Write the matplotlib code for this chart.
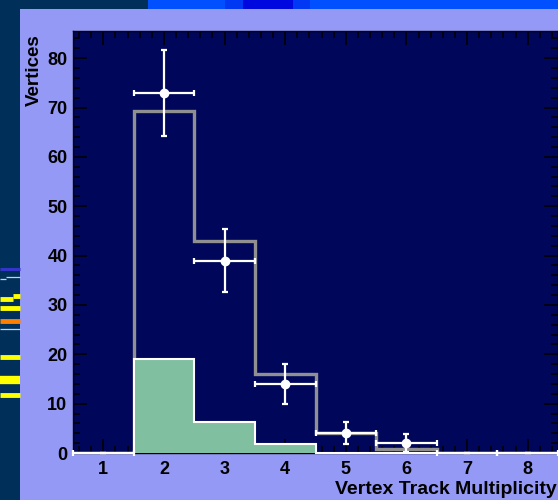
import numpy as np
import matplotlib
matplotlib.use("Agg")
import matplotlib.pyplot as plt
from matplotlib.patches import Rectangle
from matplotlib.lines import Line2D
from matplotlib.ticker import MultipleLocator

# data
multiplicity = [1, 2, 3, 4, 5, 6, 7, 8]
data_counts = [0, 73, 39, 14, 4, 2, 0, 0]
data_err = [0, 8.7, 6.3, 4.0, 2.2, 1.8, 0, 0]
mc_total = [0, 69.2, 43, 16, 4, 0.8, 0, 0]
mc_component = [0, 19, 6.2, 1.8, 0, 0, 0, 0]

x_label = "Vertex Track Multiplicity"
y_label = "Vertices"

plt.rcParams['font.family'] = ['Liberation Sans', 'DejaVu Sans']
plt.rcParams['font.weight'] = 'bold'

W, H = 558, 500
fig = plt.figure(figsize=(W / 100, H / 100), dpi=100)
fig.patch.set_facecolor('#9499f6')


def px_rect(x0, y0, w, h, color):
    # rectangle in pixel coords, y from top
    fig.patches.append(Rectangle((x0 / W, 1 - (y0 + h) / H), w / W, h / H,
                                 transform=fig.transFigure, color=color, lw=0, zorder=-10))


def px_line(x0, x1, y, lw, color):
    fig.lines.append(Line2D([x0 / W, x1 / W], [1 - y / H, 1 - y / H],
                            transform=fig.transFigure, color=color, lw=lw, zorder=-9,
                            solid_capstyle='butt'))


# slide background decorations
px_rect(0, 0, 20, H, '#00305a')
px_rect(0, 0, 148, 9, '#00305a')
px_rect(148, 0, W - 148, 9, '#0050ff')
px_rect(225, 0, 85, 9, '#0038f4')
px_rect(243, 0, 50, 9, '#0008e0')
px_line(0, 20, 269, 2.2, '#3434c8')
px_line(6, 20, 277, 0.9, '#c8d0e8')
px_line(0, 6, 279, 0.9, '#c8d0e8')
px_line(13, 20, 296, 3.5, '#ffff00')
px_line(0, 13, 299, 3.5, '#ffff00')
px_line(0, 20, 308, 3.5, '#ffff00')
px_line(0, 20, 320.5, 3.5, '#ff8000')
px_line(0, 20, 329, 0.9, '#c8d0e8')
px_line(0, 20, 356.5, 3.5, '#ffff00')
px_line(0, 20, 380, 6, '#ffff00')
px_line(0, 20, 394.5, 3.5, '#ffff00')

ax = fig.add_axes([73 / W, 47 / H, 485 / W, 422 / H])
ax.set_facecolor('#00075a')

edges = np.append(np.array(multiplicity) - 0.5, multiplicity[-1] + 0.5)

ax.stairs(mc_total, edges, color='#909090', lw=2.4, zorder=2)
ax.stairs(mc_component, edges, fill=True, color='#80c0a0', zorder=3)
ax.stairs(mc_component, edges, color='white', lw=1.5, zorder=4, clip_on=False)

ax.errorbar(multiplicity, data_counts, yerr=data_err, xerr=0.5, fmt='none',
            ecolor='white', elinewidth=1.6, capsize=2.5, capthick=1.6, zorder=5,
            clip_on=False)
counts = np.array(data_counts, dtype=float)
mask = counts > 0
ax.plot(np.array(multiplicity)[mask], counts[mask], 'o', color='white', ms=6, zorder=6)

ax.set_xlim(0.5, 8.5)
ax.set_ylim(0, 85.5)
ax.xaxis.set_major_locator(MultipleLocator(1))
ax.xaxis.set_minor_locator(MultipleLocator(0.2))
ax.yaxis.set_major_locator(MultipleLocator(10))
ax.yaxis.set_minor_locator(MultipleLocator(2))
ax.tick_params(which='both', direction='in', top=True, right=True, color='black',
               width=1.1, labelsize=13, labelcolor='black')
ax.tick_params(which='major', length=10)
ax.tick_params(which='minor', length=5)
ax.tick_params(axis='x', pad=6)
ax.tick_params(axis='y', pad=4)
for s in ax.spines.values():
    s.set_color('black')
    s.set_linewidth(1)

fig.text(557 / W, 1 - 489 / H, x_label, ha='right', va='center', fontsize=14,
         fontweight='bold', color='black')
fig.text(34 / W, 1 - 34 / H, y_label, ha='center', va='top', rotation=90,
         fontsize=13.5, fontweight='bold', color='black')

fig.savefig('out.png', dpi=100, facecolor=fig.get_facecolor())
